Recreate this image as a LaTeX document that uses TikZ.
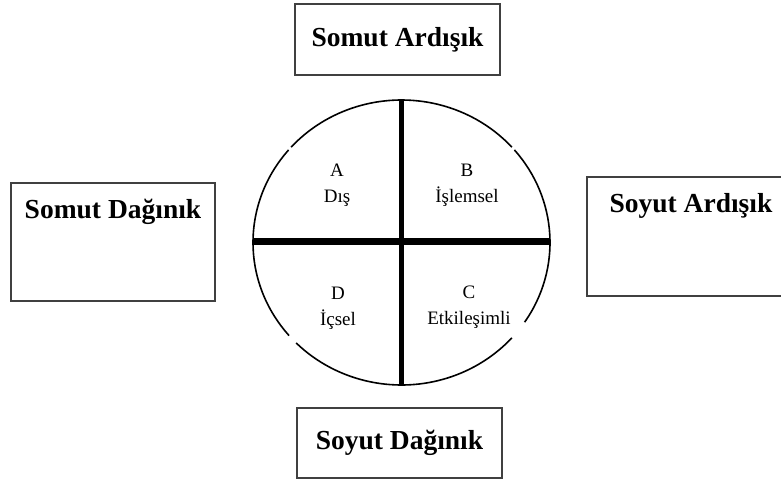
\documentclass[tikz,border=0pt]{standalone}
\usepackage{fontspec}
\setmainfont{Liberation Serif}
\usetikzlibrary{positioning}

\begin{document}
\begin{tikzpicture}[x=1pt, y=-1pt,
  box/.style={draw=black!75, line width=1.8pt, inner sep=0pt},
  boxtext/.style={font=\fontsize{27.5}{30}\selectfont\bfseries},
  part/.style={align=center, font=\fontsize{19}{26}\selectfont},
  rim/.style={line width=1.6pt}]
\clip (0,0) rectangle (781,482);
%outer boxes
\node[box, boxtext, minimum width=205pt, minimum height=71pt] (somutard) at (397.5,39.5) {Somut Ardışık};
\node[box, boxtext, minimum width=205pt, minimum height=70pt] (soyutdag) at (399.5,443) {Soyut Dağınık};
\node[box, minimum width=204pt, minimum height=118pt] (somutdag) at (113,242) {};
\node[boxtext] (somutdagtext) at ([yshift=-30pt]somutdag.north) {Somut Dağınık};
\node[box, minimum width=208pt, minimum height=119pt] (soyutard) at (691,236.5) {};
\node[boxtext] (soyutardtext) at ([yshift=-30pt]soyutard.north) {Soyut Ardışık};

%circle with small gaps
\foreach \a/\b in {42/135.2, 139.2/220.5, 222/318, 319.5/394}
  \draw[rim] ({401.5+148.5*cos(\a)},{242.5+142.5*sin(\a)})
    arc[start angle=\a, end angle=\b, x radius=148.5, y radius=142.5];

%cross
\coordinate (top) at (401.5,100);
\coordinate (bot) at (401.5,385);
\coordinate (lft) at (253,241);
\coordinate (rgt) at (550,241);
\draw[line width=4.5pt] (top) -- (bot);
\draw[line width=7pt] (lft) -- (rgt);

%quarters
\node[part] (A) at (337,185) {A\\Dış};
\node[part] (B) at (467,185) {B\\İşlemsel};
\node[part] (C) at (469,307) {C\\Etkileşimli};
\node[part] (D) at (338,308) {D\\İçsel};
\end{tikzpicture}
\end{document}
